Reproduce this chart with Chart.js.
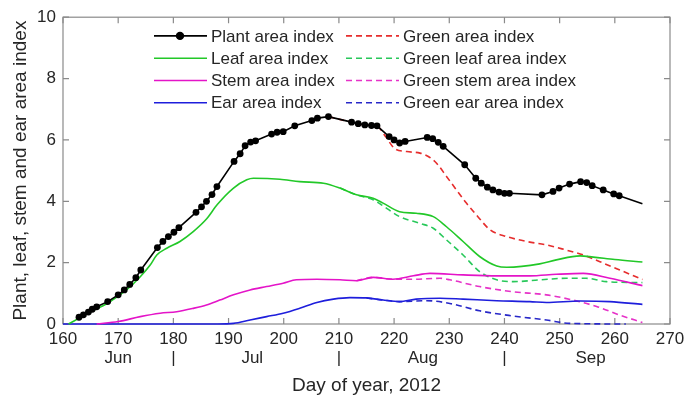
<!DOCTYPE html>
<html lang="en">
<head>
    <meta charset="UTF-8">
    <title>Plant, leaf, stem and ear area index, 2012</title>
    <script src="https://cdn.jsdelivr.net/npm/chart.js@4.4.0/dist/chart.umd.min.js"></script>
    <style>
        html, body { margin: 0; padding: 0; background: #fff; }
        .chart-box { position: relative; width: 692px; height: 401px; }
    </style>
</head>
<body>
    <div class="chart-box"><canvas id="laiChart"></canvas></div>
    <script>
        // plant area index (measured points, black markers)
        const plantDays = [162.9, 163.7, 164.6, 165.3, 166.1, 168.1, 170.0, 171.1, 172.1, 173.2, 174.1, 177.1, 178.1, 179.1, 180.1, 181.0,
            184.1, 185.1, 186.0, 187.0, 187.9, 191.0, 192.1, 193.0, 194.0, 194.9, 197.8, 198.8, 199.9, 202.0, 205.1, 206.1, 208.1,
            212.3, 213.5, 214.7, 215.9, 216.9, 219.1, 220.0, 221.0, 222.0, 226.0, 227.0, 228.0, 228.9, 232.8, 234.8, 235.8, 236.9,
            237.9, 239.0, 240.0, 240.9, 246.8, 248.8, 249.9, 251.8, 253.8, 254.9, 255.9, 257.9, 259.8, 260.8, 265.0];
        const plantVals = [0.22, 0.30, 0.39, 0.48, 0.56, 0.73, 0.95, 1.11, 1.29, 1.51, 1.76, 2.49, 2.69, 2.85, 2.99, 3.14,
            3.64, 3.82, 4.00, 4.22, 4.48, 5.30, 5.55, 5.81, 5.93, 5.97, 6.19, 6.25, 6.27, 6.46, 6.63, 6.71, 6.76,
            6.58, 6.53, 6.49, 6.47, 6.46, 6.11, 6.00, 5.90, 5.95, 6.08, 6.04, 5.92, 5.79, 5.19, 4.75, 4.59, 4.46,
            4.37, 4.30, 4.26, 4.26, 4.21, 4.32, 4.43, 4.56, 4.64, 4.61, 4.51, 4.37, 4.24, 4.18, 3.92];

        // leaf area index
        const leafDays = [161, 163, 165, 168, 171.5, 174, 175.8, 177, 178.8, 181.2, 183.6, 186, 188, 190.9, 193.3, 194.5, 199.3,
            202.9, 207.2, 210.2, 213.2, 216.2, 218, 221, 224, 227.1, 229.5, 232.5, 235.5, 238.6, 240.4, 246.4, 249.4, 253.7, 256.1, 260, 265];
        const leafVals = [0, 0.2, 0.4, 0.67, 1.11, 1.54, 1.92, 2.25, 2.47, 2.69, 3.01, 3.42, 3.9, 4.43, 4.70, 4.75, 4.72,
            4.64, 4.59, 4.43, 4.21, 4.10, 3.94, 3.66, 3.61, 3.50, 3.17, 2.69, 2.20, 1.89, 1.85, 1.96, 2.09, 2.22, 2.18, 2.10, 2.02];

        // stem area index
        const stemDays = [166.1, 170, 174, 177.6, 180.6, 183.6, 186, 188.4, 190.9, 193.9, 196.9, 199.9, 202.3, 206, 210.2, 213.2,
            216.2, 219.8, 223.5, 226.5, 232.5, 238.6, 244.6, 249.4, 254.3, 259.1, 265];
        const stemVals = [0, 0.08, 0.24, 0.35, 0.40, 0.51, 0.62, 0.78, 0.95, 1.11, 1.22, 1.33, 1.44, 1.46, 1.44, 1.41,
            1.52, 1.46, 1.57, 1.65, 1.60, 1.57, 1.57, 1.62, 1.65, 1.49, 1.25];

        // ear area index
        const earDays = [160, 188, 190.9, 193.9, 196.9, 199.9, 202.9, 206, 209, 212, 215, 218, 221, 224, 228.3, 232.5, 238.6,
            244.6, 247.6, 253.7, 259.1, 265];
        const earVals = [0, 0, 0.02, 0.13, 0.24, 0.35, 0.51, 0.70, 0.81, 0.86, 0.85, 0.78, 0.73, 0.81, 0.84, 0.81, 0.76,
            0.73, 0.70, 0.75, 0.73, 0.64];

        // green area index (same as plant until mid July)
        const greenDays = [208.1, 212.3, 214.7, 216.9, 218.5, 220.1, 222.3, 224.7, 226.2, 227.7, 229.5, 231.3, 233.1, 234.9,
            237.4, 240.4, 244.0, 247.6, 251.2, 254.3, 257.3, 260.9, 265];
        const greenVals = [6.76, 6.58, 6.49, 6.45, 6.10, 5.72, 5.62, 5.57, 5.46, 5.24, 4.81, 4.37, 3.94, 3.56,
            3.07, 2.85, 2.69, 2.58, 2.41, 2.25, 2.03, 1.76, 1.45];

        // green leaf area index
        const greenLeafDays = [210.2, 213.2, 216.2, 218, 221, 224.7, 227.1, 229.5, 232.5, 235.5, 238.6, 241.6, 246.4, 251.2,
            254.8, 258.5, 265];
        const greenLeafVals = [4.43, 4.21, 4.05, 3.85, 3.50, 3.28, 3.12, 2.74, 2.25, 1.71, 1.44, 1.38, 1.44, 1.49,
            1.49, 1.38, 1.35];

        // green stem area index
        const greenStemDays = [213.2, 216.2, 219.8, 223.5, 228.3, 230.1, 235.5, 241.6, 247.6, 252.4, 256.7, 260.9, 265];
        const greenStemVals = [1.41, 1.52, 1.46, 1.46, 1.49, 1.44, 1.22, 1.05, 0.95, 0.78, 0.57, 0.29, 0.05];

        // green ear area index
        const greenEarDays = [215, 218, 221, 225.9, 230.1, 235.5, 241.6, 247.6, 251.8, 262];
        const greenEarVals = [0.85, 0.78, 0.73, 0.76, 0.67, 0.43, 0.26, 0.13, 0.02, 0];

        // month labels under the day axis
        const monthDays = [170, 180, 194.3, 210, 225.2, 240, 255.6];
        const monthLabels = ['Jun', '|', 'Jul', '|', 'Aug', '|', 'Sep'];

        const FONT = '"Liberation Sans", Arial, Helvetica, sans-serif';
        const TEXT = '#262626';

        function pts(days, vals) {
            return days.map((d, i) => ({ x: d, y: vals[i] }));
        }

        function lineSet(label, days, vals, color, dashed) {
            return {
                label: label,
                data: pts(days, vals),
                borderColor: color,
                backgroundColor: color,
                borderWidth: 1.6,
                borderDash: dashed ? [6, 4] : [],
                pointRadius: 0,
                cubicInterpolationMode: 'monotone',
                clip: 4,
                xAxisID: 'x',
                yAxisID: 'y'
            };
        }

        // box with inward ticks, matlab style (drawn under the lines)
        const boxPlugin = {
            id: 'boxTicks',
            beforeDatasetsDraw(chart) {
                const { ctx, chartArea: a, scales } = chart;
                ctx.save();
                ctx.strokeStyle = '#8a8a8a';
                ctx.lineWidth = 1.2;
                ctx.strokeRect(a.left, a.top, a.right - a.left, a.bottom - a.top);
                ctx.beginPath();
                scales.x.ticks.forEach(t => {
                    const px = scales.x.getPixelForValue(t.value);
                    ctx.moveTo(px, a.bottom); ctx.lineTo(px, a.bottom - 6);
                    ctx.moveTo(px, a.top); ctx.lineTo(px, a.top + 6);
                });
                scales.y.ticks.forEach(t => {
                    const py = scales.y.getPixelForValue(t.value);
                    ctx.moveTo(a.left, py); ctx.lineTo(a.left + 6, py);
                    ctx.moveTo(a.right, py); ctx.lineTo(a.right - 6, py);
                });
                ctx.stroke();
                ctx.restore();
            }
        };

        // legend in two columns of four
        const legendPlugin = {
            id: 'twoColLegend',
            afterDraw(chart) {
                const { ctx, chartArea: a } = chart;
                ctx.save();
                ctx.font = '17px ' + FONT;
                ctx.textBaseline = 'middle';
                chart.data.datasets.forEach((d, i) => {
                    const col = i < 4 ? 0 : 1;
                    const row = i % 4;
                    const x0 = a.left + (col ? 283 : 91);
                    const yy = a.top + 18.7 + row * 22.3;
                    ctx.strokeStyle = d.borderColor;
                    ctx.lineWidth = d.borderWidth;
                    ctx.setLineDash(d.borderDash || []);
                    ctx.beginPath();
                    ctx.moveTo(x0, yy);
                    ctx.lineTo(x0 + 53, yy);
                    ctx.stroke();
                    ctx.setLineDash([]);
                    if (i === 0) {
                        ctx.fillStyle = d.borderColor;
                        ctx.beginPath();
                        ctx.arc(x0 + 26, yy, 4.2, 0, Math.PI * 2);
                        ctx.fill();
                    }
                    ctx.fillStyle = TEXT;
                    ctx.fillText(d.label, x0 + 57, yy + 1);
                });
                ctx.restore();
            }
        };

        const plantSet = lineSet('Plant area index', plantDays, plantVals, '#000000', false);
        plantSet.cubicInterpolationMode = 'default';
        plantSet.tension = 0;
        plantSet.pointRadius = c => (c.dataIndex === plantDays.length - 1 ? 0 : 3.4);
        plantSet.pointBorderWidth = 0;

        const datasets = [
            plantSet,
            lineSet('Leaf area index', leafDays, leafVals, 'rgb(34, 200, 40)', false),
            lineSet('Stem area index', stemDays, stemVals, 'rgb(228, 20, 200)', false),
            lineSet('Ear area index', earDays, earVals, 'rgb(30, 30, 220)', false),
            lineSet('Green area index', greenDays, greenVals, 'rgb(230, 45, 45)', true),
            lineSet('Green leaf area index', greenLeafDays, greenLeafVals, 'rgb(40, 200, 90)', true),
            lineSet('Green stem area index', greenStemDays, greenStemVals, 'rgb(230, 50, 200)', true),
            lineSet('Green ear area index', greenEarDays, greenEarVals, 'rgb(40, 40, 200)', true)
        ];

        const ctx = document.getElementById('laiChart').getContext('2d');
        new Chart(ctx, {
            type: 'line',
            data: { datasets: datasets },
            options: {
                responsive: true,
                maintainAspectRatio: false,
                animation: false,
                layout: { padding: { left: 0, right: 22, top: 17, bottom: 0 } },
                plugins: {
                    legend: { display: false },
                    tooltip: { enabled: false }
                },
                scales: {
                    x: {
                        type: 'linear',
                        position: 'bottom',
                        min: 160,
                        max: 270,
                        grid: { display: false, drawTicks: false },
                        border: { display: false },
                        ticks: { stepSize: 10, color: TEXT, font: { family: FONT, size: 17 }, padding: 5, maxRotation: 0 },
                        afterFit: s => { s.height = 24; }
                    },
                    x2: {
                        type: 'linear',
                        position: 'bottom',
                        min: 160,
                        max: 270,
                        grid: { display: false, drawTicks: false },
                        border: { display: false },
                        afterBuildTicks: s => { s.ticks = monthDays.map(v => ({ value: v })); },
                        ticks: {
                            autoSkip: false,
                            maxRotation: 0,
                            padding: 0,
                            color: TEXT,
                            font: { family: FONT, size: 17 },
                            callback: (v, i) => monthLabels[i]
                        },
                        title: {
                            display: true,
                            text: 'Day of year, 2012',
                            color: TEXT,
                            font: { family: FONT, size: 19 },
                            padding: { top: 4, bottom: 4 }
                        },
                        afterFit: s => { s.height = 53; }
                    },
                    y: {
                        min: 0,
                        max: 10,
                        grid: { display: false, drawTicks: false },
                        border: { display: false },
                        ticks: { stepSize: 2, color: TEXT, font: { family: FONT, size: 17 }, padding: 7 },
                        title: {
                            display: true,
                            text: 'Plant, leaf, stem and ear area index',
                            color: TEXT,
                            font: { family: FONT, size: 19 },
                            padding: { top: 9, bottom: 4 }
                        },
                        afterFit: s => { s.width = 63; }
                    }
                }
            },
            plugins: [boxPlugin, legendPlugin]
        });
    </script>
</body>
</html>
